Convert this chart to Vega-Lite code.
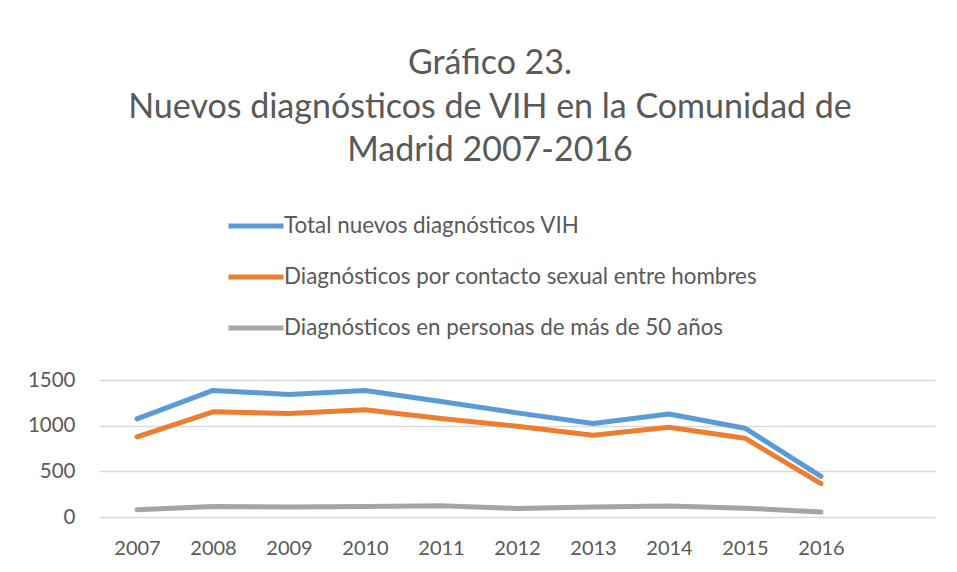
{
  "$schema": "https://vega.github.io/schema/vega-lite/v6.json",
  "width": 836,
  "height": 137,
  "autosize": {"type": "none"},
  "padding": {"left": 99, "top": 380, "right": 22, "bottom": 55},
  "background": "white",
  "title": {
    "text": ["Gráfico 23.", "Nuevos diagnósticos de VIH en la Comunidad de", "Madrid 2007-2016"],
    "font": "Lato",
    "fontSize": 34,
    "fontWeight": "normal",
    "color": "#595959",
    "lineHeight": 43.5,
    "anchor": "middle",
    "dx": -27,
    "offset": 28
  },
  "data": {
    "values": [
      {"year": "2007", "serie": "Total nuevos diagnósticos VIH", "value": 1075},
      {"year": "2008", "serie": "Total nuevos diagnósticos VIH", "value": 1386},
      {"year": "2009", "serie": "Total nuevos diagnósticos VIH", "value": 1342},
      {"year": "2010", "serie": "Total nuevos diagnósticos VIH", "value": 1384},
      {"year": "2011", "serie": "Total nuevos diagnósticos VIH", "value": 1265},
      {"year": "2012", "serie": "Total nuevos diagnósticos VIH", "value": 1140},
      {"year": "2013", "serie": "Total nuevos diagnósticos VIH", "value": 1024},
      {"year": "2014", "serie": "Total nuevos diagnósticos VIH", "value": 1128},
      {"year": "2015", "serie": "Total nuevos diagnósticos VIH", "value": 972},
      {"year": "2016", "serie": "Total nuevos diagnósticos VIH", "value": 446},
      {"year": "2007", "serie": "Diagnósticos por contacto sexual entre hombres", "value": 878},
      {"year": "2008", "serie": "Diagnósticos por contacto sexual entre hombres", "value": 1152},
      {"year": "2009", "serie": "Diagnósticos por contacto sexual entre hombres", "value": 1134},
      {"year": "2010", "serie": "Diagnósticos por contacto sexual entre hombres", "value": 1174},
      {"year": "2011", "serie": "Diagnósticos por contacto sexual entre hombres", "value": 1079},
      {"year": "2012", "serie": "Diagnósticos por contacto sexual entre hombres", "value": 994},
      {"year": "2013", "serie": "Diagnósticos por contacto sexual entre hombres", "value": 896},
      {"year": "2014", "serie": "Diagnósticos por contacto sexual entre hombres", "value": 983},
      {"year": "2015", "serie": "Diagnósticos por contacto sexual entre hombres", "value": 863},
      {"year": "2016", "serie": "Diagnósticos por contacto sexual entre hombres", "value": 365},
      {"year": "2007", "serie": "Diagnósticos en personas de más de 50 años", "value": 80},
      {"year": "2008", "serie": "Diagnósticos en personas de más de 50 años", "value": 116},
      {"year": "2009", "serie": "Diagnósticos en personas de más de 50 años", "value": 110},
      {"year": "2010", "serie": "Diagnósticos en personas de más de 50 años", "value": 115},
      {"year": "2011", "serie": "Diagnósticos en personas de más de 50 años", "value": 124},
      {"year": "2012", "serie": "Diagnósticos en personas de más de 50 años", "value": 94},
      {"year": "2013", "serie": "Diagnósticos en personas de más de 50 años", "value": 110},
      {"year": "2014", "serie": "Diagnósticos en personas de más de 50 años", "value": 120},
      {"year": "2015", "serie": "Diagnósticos en personas de más de 50 años", "value": 97},
      {"year": "2016", "serie": "Diagnósticos en personas de más de 50 años", "value": 55}
    ]
  },
  "mark": {"type": "line", "strokeWidth": 5, "strokeCap": "round", "strokeJoin": "round"},
  "encoding": {
    "x": {
      "field": "year",
      "type": "ordinal",
      "title": null,
      "scale": {
        "type": "point",
        "padding": 0.5,
        "domain": ["2007", "2008", "2009", "2010", "2011", "2012", "2013", "2014", "2015", "2016", "2017"]
      },
      "axis": {
        "labelAngle": 0,
        "labelExpr": "datum.label == '2017' ? '' : datum.label",
        "domain": false,
        "ticks": false,
        "grid": false,
        "labelPadding": 21,
        "labelFont": "Lato",
        "labelFontSize": 20,
        "labelColor": "#595959"
      }
    },
    "y": {
      "field": "value",
      "type": "quantitative",
      "title": null,
      "scale": {"domain": [0, 1500], "nice": false},
      "axis": {
        "values": [0, 500, 1000, 1500],
        "format": "d",
        "domain": false,
        "ticks": false,
        "grid": true,
        "gridColor": "#D9D9D9",
        "gridWidth": 1.5,
        "labelPadding": 24,
        "labelFont": "Lato",
        "labelFontSize": 20.5,
        "labelColor": "#595959"
      }
    },
    "color": {
      "field": "serie",
      "type": "nominal",
      "title": null,
      "scale": {
        "domain": ["Total nuevos diagnósticos VIH", "Diagnósticos por contacto sexual entre hombres", "Diagnósticos en personas de más de 50 años"],
        "range": ["#5B9BD5", "#ED7D31", "#A5A5A5"]
      },
      "legend": {
        "orient": "none",
        "legendX": 127,
        "legendY": -184,
        "direction": "vertical",
        "symbolType": "stroke",
        "symbolSize": 3025,
        "symbolStrokeWidth": 5,
        "labelFont": "Lato",
        "labelFontSize": 22.4,
        "labelColor": "#595959",
        "labelOffset": -2,
        "labelLimit": 700,
        "rowPadding": 9
      }
    }
  },
  "config": {
    "view": {"stroke": null}
  }
}
